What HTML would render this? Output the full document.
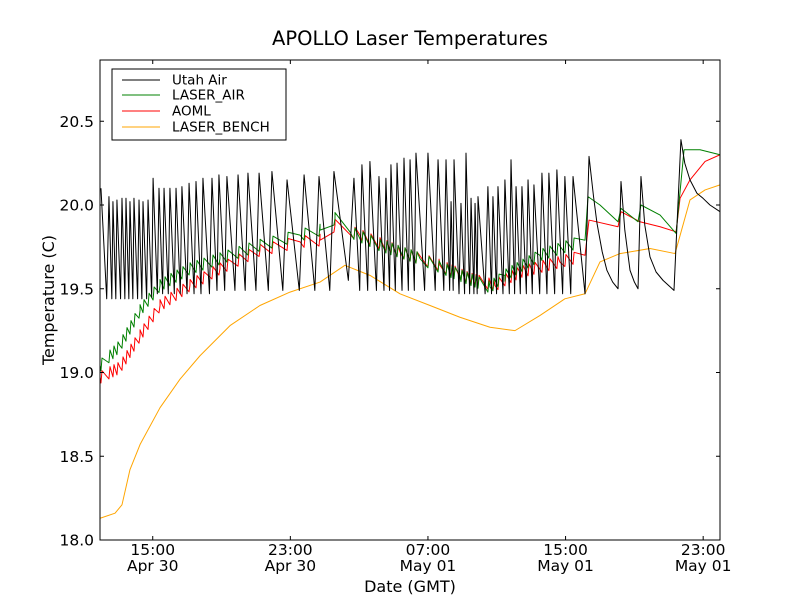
<!DOCTYPE html>
<html><head><meta charset="utf-8">
<style>
body{margin:0;background:#fff;}
svg{display:block;font-family:"DejaVu Sans","Liberation Sans",sans-serif;}
</style></head>
<body>
<svg id="chart" width="800" height="600" viewBox="0 0 800 600">
<rect x="0" y="0" width="800" height="600" fill="#fff"/>
<text x="410" y="45" text-anchor="middle" font-size="19.5">APOLLO Laser Temperatures</text>
<g id="series"></g>
<rect x="100" y="60" width="620" height="480" fill="none" stroke="#000" stroke-width="1"/>
<g id="axes"></g>
<text transform="translate(54,300) rotate(-90)" text-anchor="middle" font-size="16">Temperature (C)</text>
<text x="410" y="592" text-anchor="middle" font-size="16">Date (GMT)</text>
<g>
<rect x="112" y="69" width="174" height="71" fill="#fff" stroke="#000"/>
<g><line x1="122" y1="80" x2="160" y2="80" stroke="#000"/><text x="172" y="84.5" font-size="13.5">Utah Air</text></g>
<g><line x1="122" y1="95" x2="160" y2="95" stroke="#008000"/><text x="172" y="99.5" font-size="13.5">LASER_AIR</text></g>
<g><line x1="122" y1="111" x2="160" y2="111" stroke="#ff0000"/><text x="172" y="115.5" font-size="13.5">AOML</text></g>
<g><line x1="122" y1="127" x2="160" y2="127" stroke="#ffa500"/><text x="172" y="131.5" font-size="13.5">LASER_BENCH</text></g>
</g>
</svg>
<script>
// time in hours (chart time units)
const yTicks = [18.0, 18.5, 19.0, 19.5, 20.0, 20.5];
const xTicks = [14.58, 22.50, 30.42, 38.34, 46.26];
const xTickTime = ["15:00","23:00","07:00","15:00","23:00"];
const xTickDate = ["Apr 30","Apr 30","May 01","May 01","May 01"];

const utahPeakT = [11.60,12.06,12.29,12.52,12.81,13.04,13.27,13.50,13.79,14.02,14.31,
 14.60,14.94,15.23,15.57,15.92,16.26,16.67,17.07,17.47,17.99,
 18.39,18.85,19.49,20.06,20.70,21.44,22.31,23.29,24.15,25.01,
 26.16,26.62,27.08,27.60,28.00,28.29,28.64,29.04,29.39,29.73,
 30.42,31.00,31.46,31.75,31.92,32.32,32.61,32.90,33.13,33.30,
 33.87,34.16,34.45,34.85,35.20,35.49,35.83,36.18,36.52,36.98,
 37.38,37.84,38.30,38.77];
const utahPeakV = [20.10,20.05,20.02,20.03,20.04,20.04,20.02,20.04,20.03,20.02,20.03,
 20.16,20.10,20.10,20.10,20.10,20.11,20.13,20.14,20.16,20.16,
 20.18,20.17,20.18,20.19,20.19,20.20,20.15,20.18,20.17,20.20,
 20.16,20.24,20.26,20.17,20.16,20.24,20.25,20.28,20.27,20.31,
 20.31,20.27,20.27,20.02,20.27,20.01,20.31,20.04,20.01,20.05,
 20.11,20.05,20.11,20.15,20.27,20.11,20.11,20.15,20.12,20.19,
 20.19,20.21,20.17,20.17];
const utahTroughV = [19.44,19.44,19.44,19.44,19.44,19.44,19.44,19.44,19.44,19.44,
 19.45,19.47,19.47,19.47,19.47,19.47,19.47,19.47,19.47,19.47,
 19.49,19.49,19.49,19.49,19.49,19.49,19.49,19.49,19.49,19.49,
 19.55,19.49,19.49,19.49,19.49,19.49,19.49,19.49,19.49,19.49,19.49,19.49,19.49,19.49,19.49,
 19.47,19.47,19.47,19.47,19.47,19.47,19.47,19.47,19.47,19.47,
 19.47,19.47,19.47,19.47,19.47,19.47,19.47,19.47,19.47];
const utahTailT = [39.46,39.69,39.95,40.15,40.45,40.72,41.05,41.36,41.53,41.75,42.05,42.30,42.51,42.68,42.90,43.20,43.55,43.95,44.58,44.98,45.20,45.50,45.90,46.25,46.65,47.23];
const utahTailV = [19.47,20.29,20.05,19.89,19.72,19.61,19.54,19.50,20.14,19.85,19.61,19.54,19.50,20.17,19.88,19.69,19.60,19.55,19.49,20.39,20.25,20.15,20.07,20.04,20.00,19.96];

const greenT = [11.55,12.70,13.85,15.00,16.72,18.45,20.75,23.06,24.21,25.07,25.93,27.66,29.96,32.26,33.99,34.85,36.86,39.46,39.63,40.32,41.36,41.53,42.51,42.68,43.78,44.70,45.16,46.08,47.23];
const greenV = [19.04,19.16,19.37,19.52,19.62,19.68,19.76,19.82,19.85,19.92,19.84,19.76,19.68,19.58,19.51,19.58,19.70,19.79,20.05,20.00,19.90,19.98,19.90,20.00,19.94,19.83,20.33,20.33,20.30];
const redT = [11.55,12.70,13.85,15.00,16.72,18.45,20.75,23.06,24.21,25.07,26.51,28.81,31.11,32.84,34.27,35.71,38.01,39.46,39.69,41.36,41.53,42.62,43.78,44.70,44.93,45.50,46.37,47.23];
const redV = [18.97,19.03,19.22,19.40,19.52,19.62,19.73,19.78,19.79,19.88,19.82,19.72,19.64,19.56,19.52,19.60,19.66,19.70,19.91,19.87,19.96,19.90,19.87,19.84,20.04,20.15,20.26,20.30];
const benchT = [11.55,12.41,12.81,13.27,13.85,15.00,16.15,17.30,19.03,20.75,22.48,24.21,25.64,27.08,28.81,30.54,32.26,33.99,35.43,36.86,38.30,39.46,40.32,41.47,43.20,44.64,45.50,46.37,47.23];
const benchV = [18.13,18.16,18.21,18.42,18.57,18.79,18.96,19.10,19.28,19.40,19.48,19.54,19.64,19.58,19.47,19.40,19.33,19.27,19.25,19.34,19.44,19.47,19.66,19.71,19.74,19.71,20.03,20.09,20.12];

const X0 = 11.545, PX = 17.375;
function xS(h){ return 100 + (h - X0) * PX; }
function yS(v){ return 540 - (v - 18) * 167.5; }
const NS = "http://www.w3.org/2000/svg";
const sg = document.getElementById('series');
const ax = document.getElementById('axes');

function interp(T, V, t){
  if (t <= T[0]) return V[0];
  for (let i = 1; i < T.length; i++) if (t <= T[i]) { const f = (t - T[i-1]) / (T[i] - T[i-1]); return V[i-1] + f * (V[i] - V[i-1]); }
  return V[V.length - 1];
}
function drawPath(pts, color, name){
  const p = document.createElementNS(NS, 'path');
  p.setAttribute('d', pts.map((q, i) => (i ? 'L' : 'M') + xS(q[0]).toFixed(2) + ' ' + yS(q[1]).toFixed(2)).join(''));
  p.setAttribute('fill', 'none'); p.setAttribute('stroke', color); p.setAttribute('stroke-width', '1');
  p.setAttribute('stroke-linejoin', 'round');
  
  
  sg.appendChild(p);
}
function rippled(T, V, amp, tEnd){
  const evts = utahPeakT.filter(t => t < tEnd);
  let all = T.map((t, i) => [t, V[i]]);
  evts.forEach(t => { all.push([t, interp(T, V, t) - amp]); all.push([t + 0.06, interp(T, V, t + 0.06) + amp]); });
  all.sort((a, b) => a[0] - b[0]);
  return all;
}

drawPath(benchT.map((t, i) => [t, benchV[i]]), '#ffa500', 'laser-bench-line');
drawPath(rippled(redT, redV, 0.035, 39.4), '#ff0000', 'aoml-line');
drawPath(rippled(greenT, greenV, 0.035, 39.4), '#008000', 'laser-air-line');

const up = [];
for (let i = 0; i < utahPeakT.length; i++) {
  up.push([utahPeakT[i], utahPeakV[i]]);
  if (i < utahPeakT.length - 1) {
    const tt = utahPeakT[i] + 0.72 * (utahPeakT[i+1] - utahPeakT[i]);
    up.push([tt, utahTroughV[i]]);
  }
}
utahTailT.forEach((t, i) => up.push([t, utahTailV[i]]));
drawPath(up.filter(q => q[0] >= X0), '#000', 'utah-air-line');

yTicks.forEach(v => {
  const y = yS(v);
  const g = document.createElementNS(NS, 'g');
  
  
  g.innerHTML = `<line x1="100" y1="${y}" x2="104" y2="${y}" stroke="#000"/><line x1="720" y1="${y}" x2="716" y2="${y}" stroke="#000"/><text x="94" y="${y+5.5}" text-anchor="end" font-size="15.5">${v.toFixed(1)}</text>`;
  ax.appendChild(g);
});
xTicks.forEach((h, i) => {
  const x = xS(h);
  const g = document.createElementNS(NS, 'g');
  
  
  g.innerHTML = `<line x1="${x}" y1="540" x2="${x}" y2="536" stroke="#000"/><line x1="${x}" y1="60" x2="${x}" y2="64" stroke="#000"/><text x="${x}" y="555" text-anchor="middle" font-size="15.5">${xTickTime[i]}</text><text x="${x}" y="571" text-anchor="middle" font-size="15.5">${xTickDate[i]}</text>`;
  ax.appendChild(g);
});
</script>
</body></html>
